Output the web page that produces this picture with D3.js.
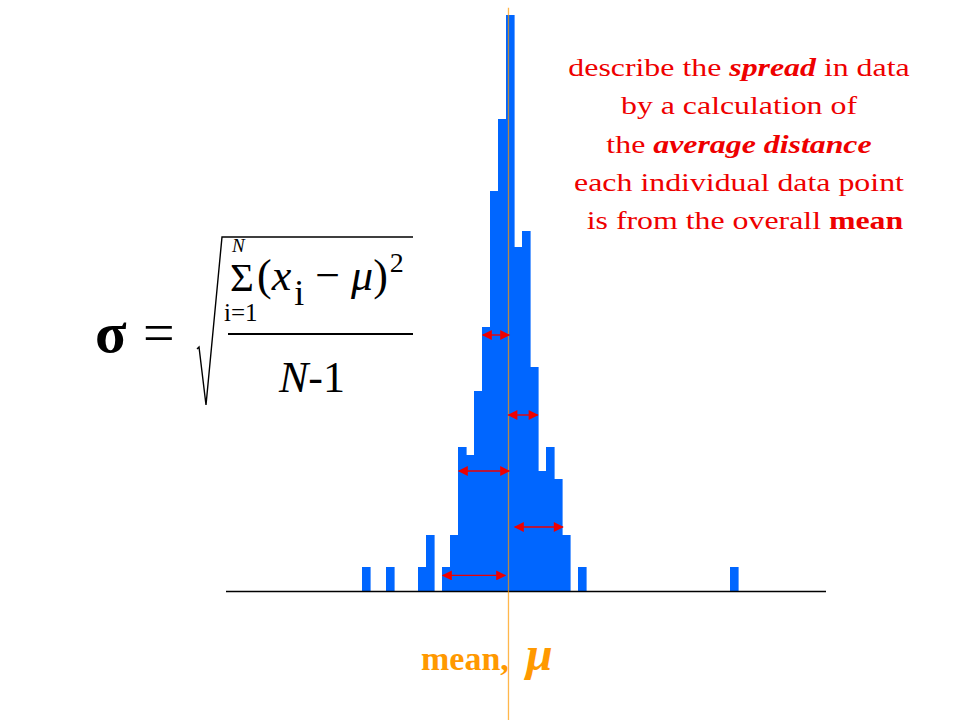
<!DOCTYPE html>
<html>
<head>
<meta charset="utf-8">
<script src="https://cdn.jsdelivr.net/npm/d3@7"></script>
<style>
html,body{margin:0;padding:0;background:#fff;}
svg{display:block;}
svg text{font-family:"Liberation Serif","Times New Roman",Times,serif;}
</style>
</head>
<body>
<svg id="chart" width="960" height="720"></svg>
<script>
// ---- data ----
const binIndex = [0, 3, 7, 8, 10, 11, 12, 13, 14, 15, 16, 17, 18, 19, 20, 21, 22, 23, 24, 25, 27, 46];
const binCount = [3, 3, 3, 7, 3, 7, 18, 17, 25, 33, 50, 59, 72, 43, 45, 28, 15, 18, 14, 7, 3, 3];
const meanValue = 18.31;
// distance arrows: from, to, height
const arrowFrom = [15.1, 18.3, 12.1, 19.1, 10.1];
const arrowTo   = [18.4, 21.95, 18.4, 25.1, 17.9];
const arrowY    = [32, 22, 15, 8, 1.95];
const textLines = [
  [{t:"describe the ",s:"n"},{t:"spread",s:"bi"},{t:" in data",s:"n"}],
  [{t:"by a calculation of",s:"n"}],
  [{t:"the ",s:"n"},{t:"average distance",s:"bi"}],
  [{t:"each individual data point",s:"n"}],
  [{t:" is from the overall ",s:"n"},{t:"mean",s:"b"}]
];

// ---- scales ----
const svg = d3.select("#chart");
const x = d3.scaleLinear().domain([-17, 58]).range([226, 826]);
const y = d3.scaleLinear().domain([0, 72]).range([591, 15]);
const bw = x(1) - x(0);

const blue = "#0066FF", red = "#EE0000", orange = "#FF9900";

// bars
svg.append("g").selectAll("rect").data(binIndex).join("rect")
  .attr("x", d => x(d))
  .attr("width", bw + 0.6)
  .attr("y", (d,i) => y(binCount[i]))
  .attr("height", (d,i) => y(0) - y(binCount[i]))
  .attr("fill", blue);

// baseline axis
svg.append("line")
  .attr("x1", x(-17)).attr("x2", x(58))
  .attr("y1", y(0) + 0.5).attr("y2", y(0) + 0.5)
  .attr("stroke", "#000").attr("stroke-width", 1.6);

// mean line
svg.append("line")
  .attr("x1", x(meanValue)).attr("x2", x(meanValue))
  .attr("y1", y(72.9)).attr("y2", 720)
  .attr("stroke", orange).attr("stroke-width", 1.3).attr("opacity", 0.7);

// arrows
const defs = svg.append("defs");
["s","e"].forEach(k => {
  defs.append("marker").attr("id", "ah" + k)
    .attr("markerUnits", "userSpaceOnUse")
    .attr("viewBox", "0 0 10 10").attr("refX", 9).attr("refY", 5)
    .attr("markerWidth", 11).attr("markerHeight", 10)
    .attr("orient", k === "s" ? "auto-start-reverse" : "auto")
    .append("path").attr("d", "M0,0 L10,5 L0,10 Z").attr("fill", red);
});
svg.append("g").selectAll("line").data(arrowY).join("line")
  .attr("x1", (d,i) => x(arrowFrom[i]))
  .attr("x2", (d,i) => x(arrowTo[i]))
  .attr("y1", d => y(d)).attr("y2", d => y(d))
  .attr("stroke", red).attr("stroke-width", 1.4)
  .attr("marker-start", "url(#ahs)").attr("marker-end", "url(#ahe)");

// mean label
const ml = svg.append("text").attr("x", 421).attr("y", 670)
  .attr("fill", orange).attr("font-weight", "bold");
ml.append("tspan").attr("font-size", 34).text("mean, ");
ml.append("tspan").attr("font-size", 48).attr("font-style", "italic").attr("x", 526).text("μ");

// red description text (slightly stretched horizontally, as in the reference)
const tg = svg.append("g")
  .attr("font-size", 26).attr("fill", red).attr("text-anchor", "middle");
textLines.forEach((line, i) => {
  const t = tg.append("text")
    .attr("transform", `translate(${i === 4 ? 741 : 739},${76 + i * 38.3}) scale(1.225,1)`)
    .attr("x", 0).attr("y", 0).attr("xml:space", "preserve");
  line.forEach(seg => {
    const sp = t.append("tspan").text(seg.t);
    if (seg.s.includes("b")) sp.attr("font-weight", "bold");
    if (seg.s.includes("i")) sp.attr("font-style", "italic");
  });
});

// formula
const f = svg.append("g").attr("fill", "#000");
f.append("text").attr("x", 95).attr("y", 352).attr("font-size", 58).attr("font-weight", "bold").text("σ");
f.append("text").attr("x", 143).attr("y", 352).attr("font-size", 56).text("=");
// radical
f.append("path")
  .attr("d", "M197,349 L199,347 L206,405 L222,237 L413,237")
  .attr("fill", "none").attr("stroke", "#000").attr("stroke-width", 1.4);
// fraction bar
f.append("line").attr("x1", 228).attr("x2", 413).attr("y1", 334).attr("y2", 334)
  .attr("stroke", "#000").attr("stroke-width", 2);
// numerator
f.append("text").attr("x", 232).attr("y", 252).attr("font-size", 19).attr("font-style", "italic").text("N");
f.append("text").attr("x", 230).attr("y", 291).attr("font-size", 41).text("Σ");
f.append("text").attr("x", 224).attr("y", 321).attr("font-size", 25).text("i=1");
const num = f.append("text").attr("x", 257).attr("y", 290).attr("font-size", 44);
num.append("tspan").text("(");
num.append("tspan").attr("font-style", "italic").text("x");
num.append("tspan").attr("font-size", 36).attr("dx", 3).attr("dy", 15).text("i");
num.append("tspan").attr("dy", -15).text(" − ");
num.append("tspan").attr("font-style", "italic").text("μ");
num.append("tspan").text(")");
num.append("tspan").attr("font-size", 28).attr("dx", 2).attr("dy", -18).text("2");
// denominator
const den = f.append("text").attr("x", 279).attr("y", 392).attr("font-size", 44);
den.append("tspan").attr("font-style", "italic").text("N");
den.append("tspan").text("-1");
</script>
</body>
</html>
